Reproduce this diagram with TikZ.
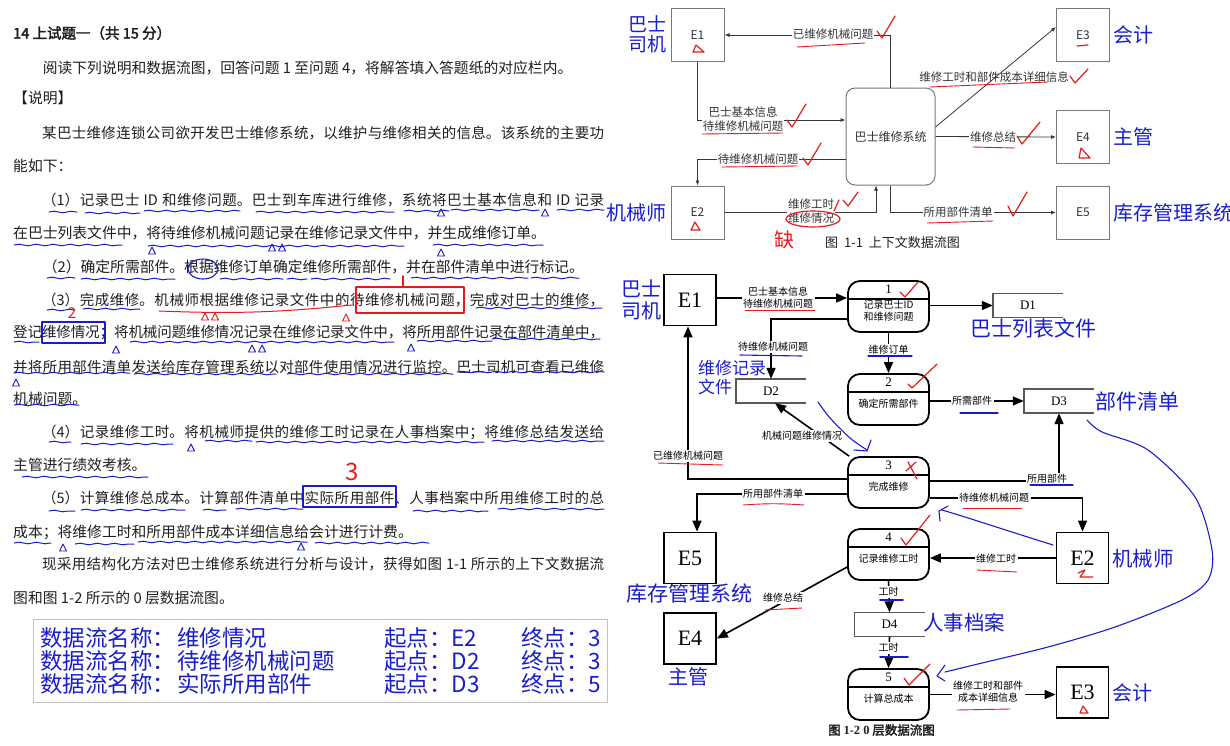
\documentclass[tikz,border=0pt]{standalone}
\usepackage{fontspec}
\setmainfont{Noto Sans CJK SC}[AutoFakeBold=2.5]
\newfontfamily\tmsfont{Liberation Serif}
\usetikzlibrary{arrows.meta, positioning, decorations.pathmorphing}
\XeTeXlinebreaklocale "zh"
\XeTeXlinebreakskip=0pt plus 1pt minus 0.3pt
\definecolor{inkblue}{RGB}{25, 30, 205}
\definecolor{inkred}{RGB}{228, 28, 28}
\definecolor{ctxgray}{RGB}{120, 120, 120}
\definecolor{ctxline}{RGB}{55, 55, 55}
\definecolor{panelgray}{RGB}{195, 195, 195}

% one justified line of the question text
\newcommand{\jl}[1]{\noindent\parfillskip=0pt\relax #1\par}

% process of the level-0 diagram: name, centre, number, text
\newcommand{\dfdproc}[4]{%
  \node[proc] (#1) at (#2) {};
  \draw[line width=1.4pt] ([yshift=-19pt]#1.north west) -- ([yshift=-19pt]#1.north east);
  \node[procnum] (#1num) at ([yshift=-9.5pt]#1.north) {#3};
  \node[proctxt] (#1txt) at ([yshift=-31pt]#1.north) {#4};
}
% open data store: name, centre, label
\newcommand{\dfdstore}[3]{%
  \node[store] (#1) at (#2) {#3};
  \draw[storeline] (#1.north east) -- (#1.north west) -- (#1.south west) -- (#1.south east);
}

\begin{document}
\begin{tikzpicture}[x=1pt, y=-1pt,
    txt/.style={anchor=west, inner sep=0pt, text=black!88,
        font=\fontsize{14.8}{17}\selectfont},
    jtxt/.style={txt, text width=591pt, align=justify,
        font=\fontsize{14.5}{17}\selectfont},
    rowtxt/.style={anchor=west, inner sep=0pt, text=inkblue,
        font=\fontsize{22.5}{24}\selectfont},
    ctxbox/.style={draw=ctxgray, line width=1pt, minimum width=53pt,
        minimum height=53pt, text=black!80, font=\fontsize{12}{14}\selectfont},
    ctxarr/.style={draw=ctxline, line width=0.8pt, -{Latex[length=5pt, width=4pt]}},
    ctxlbl/.style={fill=white, inner sep=1pt, align=center, text=black!80,
        font=\fontsize{11.5}{14}\selectfont},
    ebox/.style={draw, line width=1.8pt, minimum width=52pt, minimum height=51pt,
        font=\tmsfont\fontsize{22}{24}\selectfont},
    proc/.style={draw, line width=1.8pt, rounded corners=12pt,
        minimum width=81pt, minimum height=51pt},
    procnum/.style={inner sep=0pt, font=\tmsfont\fontsize{13}{15}\selectfont},
    proctxt/.style={inner sep=0pt, align=center, font=\fontsize{10}{12}\selectfont},
    store/.style={minimum width=70pt, minimum height=24pt,
        font=\tmsfont\fontsize{13}{15}\selectfont},
    storeline/.style={draw=black!65, line width=1.5pt},
    flow/.style={line width=1.6pt, -{Triangle[length=11pt, width=9pt]}},
    flowlbl/.style={fill=white, inner sep=1.5pt, align=center,
        font=\fontsize{10}{12}\selectfont},
    note/.style={inner sep=0pt, text=inkblue, align=left,
        font=\fontsize{20}{22}\selectfont},
    redpen/.style={draw=inkred, line width=1.2pt, line cap=round, line join=round},
    bluepen/.style={draw=inkblue, line width=1.1pt, line cap=round, line join=round},
    uline/.style={bluepen, line width=1pt, decorate,
        decoration={snake, amplitude=0.8pt, segment length=17pt}}
  ]
  \useasboundingbox[fill=white] (0,0) rectangle (1230,745);

  % ---------------- question text ----------------
  \node[txt, font=\bfseries\fontsize{14.5}{17}\selectfont] (title) at (13,33)
    {14 上试题一（共 15 分）};
  \node[txt] (intro) at (13,68)
    {\hspace*{2em}阅读下列说明和数据流图，回答问题 1 至问题 4，将解答填入答题纸的对应栏内。};
  \node[txt] (head) at (13,98) {【说明】};
  \node[jtxt] (par1a) at (13,133)
    {\jl{\hspace*{2em}某巴士维修连锁公司欲开发巴士维修系统，以维护与维修相关的信息。该系统的主要功}};
  \node[txt] (par1b) at (13,166) {能如下：};
  \node[jtxt] (f1a) at (13,200)
    {\jl{\hspace*{2em}（1）记录巴士 ID 和维修问题。巴士到车库进行维修，系统将巴士基本信息和 ID 记录}};
  \node[txt] (f1b) at (13,233)
    {在巴士列表文件中，将待维修机械问题记录在维修记录文件中，并生成维修订单。};
  \node[txt] (f2a) at (13,267)
    {\hspace*{2em}（2）确定所需部件。根据维修订单确定维修所需部件，并在部件清单中进行标记。};
  \node[jtxt] (f3a) at (13,300)
    {\jl{\hspace*{2em}（3）完成维修。机械师根据维修记录文件中的待维修机械问题，完成对巴士的维修，}};
  \node[jtxt] (f3b) at (13,333)
    {\jl{登记维修情况；将机械问题维修情况记录在维修记录文件中，将所用部件记录在部件清单中，}};
  \node[jtxt] (f3c) at (13,367)
    {\jl{并将所用部件清单发送给库存管理系统以对部件使用情况进行监控。巴士司机可查看已维修}};
  \node[txt] (f3d) at (13,399) {机械问题。};
  \node[jtxt] (f4a) at (13,432)
    {\jl{\hspace*{2em}（4）记录维修工时。将机械师提供的维修工时记录在人事档案中；将维修总结发送给}};
  \node[txt] (f4b) at (13,465) {主管进行绩效考核。};
  \node[jtxt] (f5a) at (13,498)
    {\jl{\hspace*{2em}（5）计算维修总成本。计算部件清单中实际所用部件、人事档案中所用维修工时的总}};
  \node[txt] (f5b) at (13,532) {成本；将维修工时和所用部件成本详细信息给会计进行计费。};
  \node[jtxt] (endA) at (13,564)
    {\jl{\hspace*{2em}现采用结构化方法对巴士维修系统进行分析与设计，获得如图 1-1 所示的上下文数据流}};
  \node[txt] (endB) at (13,598) {图和图 1-2 所示的 0 层数据流图。};

  % answer panel
  \node[draw=panelgray, line width=1pt, inner sep=0pt,
        minimum width=574pt, minimum height=83pt] (panel) at (320,660.5) {};
  \foreach \y/\nm/\src/\dst [count=\i] in
      {638/维修情况/E2/3, 661/待维修机械问题/D2/3, 684/实际所用部件/D3/5} {
    \node[rowtxt] (rowA\i) at (40,\y) {数据流名称：};
    \node[rowtxt] (rowB\i) at (177,\y) {\nm};
    \node[rowtxt] (rowC\i) at (384,\y) {起点：\src};
    \node[rowtxt] (rowD\i) at (521,\y) {终点：\dst};
  }

  % marks on the question text
  \foreach \a/\b/\y in {49/77/212, 85/140/213, 144/240/211, 256/394/212, 404/449/211,
      451/539/210, 557/604/210, 14/122/245, 148/404/246, 433/543/245,
      47/75/278, 81/175/279, 220/283/279, 287/307/279, 311/390/279, 411/528/278, 531/579/278,
      47/75/310, 83/140/309, 476/602/308, 14/39/342, 130/394/342, 417/492/341, 492/600/339,
      14/130/373, 134/276/374, 287/453/374, 457/604/372, 14/79/405,
      49/71/442, 81/173/444, 205/252/441, 256/484/442, 492/604/441, 22/148/477,
      49/75/511, 81/185/510, 203/226/510, 236/303/509, 413/488/511, 498/604/509,
      14/51/543, 75/134/544, 138/307/542, 315/429/543}
    \draw[uline] (\a,\y) -- (\b,\y);
  \foreach \x/\y in {441/213, 545/213, 152/251, 272/248, 282/248, 441/253, 116/350,
      252/349, 262/349, 411/348, 16/383, 191/448, 63/548, 301/547}
    \draw[bluepen, line width=0.9pt] ({\x-3.5},{\y+3}) -- (\x,{\y-4}) -- ({\x+3.5},{\y+3}) -- cycle;
  \draw[redpen, line width=1pt] (159,311) to[bend right=4] (352,305);
  \foreach \x/\y in {205/317, 215/317, 346/318}
    \draw[redpen, line width=0.9pt] ({\x-3.5},{\y+3}) -- (\x,{\y-4}) -- ({\x+3.5},{\y+3}) -- cycle;
  \draw[redpen] (356,287) rectangle (464,313);
  \draw[redpen] (403,287) -- (403,276);
  \node[text=inkred, font=\fontsize{15}{17}\selectfont] (mk2) at (72,313) {2};
  \node[text=inkred, font=\fontsize{24}{26}\selectfont] (mk3) at (352,472) {3};
  \draw[bluepen] (203,269) ellipse [x radius=15pt, y radius=10pt];
  \draw[bluepen] (42,322) rectangle (105,343);
  \draw[bluepen] (303,486) rectangle (396,507);

  % ---------------- figure 1-1 ----------------
  \node[ctxbox] (ctxE1) at (697.5,35) {E1};
  \node[ctxbox] (ctxE2) at (697.5,212.5) {E2};
  \node[ctxbox] (ctxE3) at (1083,35) {E3};
  \node[ctxbox] (ctxE4) at (1083,137) {E4};
  \node[ctxbox] (ctxE5) at (1083,212.5) {E5};
  \node[ctxbox, rounded corners=9pt, minimum width=89pt, minimum height=97pt]
    (ctxSys) at (890.5,136.5) {巴士维修系统};

  \draw[ctxarr] (ctxE1.south) |- (ctxSys.west |- 0,120);
  \draw[ctxarr] (ctxSys.north) |- (ctxE1.east);
  \draw[ctxarr] (ctxSys.west |- 0,159) -| (ctxE2.north);
  \draw[ctxarr] (ctxE2.east) -| ([xshift=-14.5pt]ctxSys.south);
  \draw[ctxarr] ([yshift=9.5pt]ctxSys.east) -- ([yshift=8pt]ctxE3.west);
  \draw[ctxarr] (ctxSys.east) -- (ctxE4.west);
  \draw[ctxarr] (ctxSys.south) |- (ctxE5.west);

  \node[ctxlbl] (cl1) at (743,119) {巴士基本信息\\待维修机械问题};
  \node[ctxlbl] (cl2) at (833,34) {已维修机械问题};
  \node[ctxlbl] (cl3) at (758,159) {待维修机械问题};
  \node[ctxlbl] (cl4) at (811,211) {维修工时\\维修情况};
  \node[ctxlbl, fill=none] (cl5) at (994,77) {维修工时和部件成本详细信息};
  \node[ctxlbl] (cl6) at (993,137) {维修总结};
  \node[ctxlbl] (cl7) at (958,212) {所用部件清单};

  \node[txt, font=\fontsize{13}{15}\selectfont] (cap1) at (825,243)
    {图\ \ 1-1\ \ 上下文数据流图};

  \node[note, align=center, font=\fontsize{19}{20}\selectfont] (ctxN1) at (647,34)
    {巴士\\司机};
  \node[note, left=4pt of ctxE2] (ctxN2) {机械师};
  \node[note, right=3.5pt of ctxE3] (ctxN3) {会计};
  \node[note, right=3.5pt of ctxE4] (ctxN4) {主管};
  \node[note, right=3.5pt of ctxE5] (ctxN5) {库存管理系统};

  % ticks and marks on figure 1-1
  \draw[redpen] (877,31) -- (882,38) -- (895,16);
  \draw[redpen] (787,120) -- (792,127) -- (806,104);
  \draw[redpen] (803,158) -- (808,165) -- (821,143);
  \draw[redpen] (834,211) -- (839,200);
  \draw[redpen] (843,200) -- (848,206) -- (858,192);
  \draw[redpen] (813,219) ellipse [x radius=27pt, y radius=8pt];
  \draw[redpen] (1070,76) -- (1075,83) -- (1088,69);
  \draw[redpen] (1017,136) -- (1022,144) -- (1040,122);
  \draw[redpen] (1008,206) -- (1013,216) -- (1027,192);
  \draw[redpen, line width=0.9pt] (797,47) -- (865,43);
  \draw[redpen, line width=0.9pt] (702,134) -- (783,133);
  \draw[redpen, line width=0.9pt] (722,167) -- (797,166);
  \draw[redpen, line width=0.9pt] (930,87) -- (1048,82);
  \draw[redpen, line width=0.9pt] (973,147) -- (1015,148);
  \draw[redpen, line width=0.9pt] (927,223) -- (993,221);
  \draw[redpen] (693,52) -- (696,45) -- (704,52) -- cycle;
  \draw[redpen] (691,230) -- (695,222) -- (700,230) -- cycle;
  \draw[redpen] (1079,158) -- (1081,148) -- (1090,158) -- cycle;
  \draw[redpen] (1077,46) -- (1088,45);
  \node[text=inkred, font=\fontsize{20}{22}\selectfont] (mkQue) at (784,240) {缺};

  % ---------------- figure 1-2 ----------------
  \node[ebox] (lvE1) at (690,300) {E1};
  \node[ebox] (lvE5) at (690,558) {E5};
  \node[ebox] (lvE4) at (690,638.5) {E4};
  \node[ebox] (lvE2) at (1082.5,558) {E2};
  \node[ebox] (lvE3) at (1082.5,692.5) {E3};

  \dfdproc{p1}{888.5,306.5}{1}{记录巴士ID\\和维修问题}
  \dfdproc{p2}{888.5,399.5}{2}{确定所需部件}
  \dfdproc{p3}{888.5,482.5}{3}{完成维修}
  \dfdproc{p4}{888.5,554.5}{4}{记录维修工时}
  \dfdproc{p5}{888.5,694.5}{5}{计算总成本}

  \dfdstore{d1}{1028,305.5}{D1}
  \dfdstore{d2}{771,391}{D2}
  \dfdstore{d3}{1059,401}{D3}
  \dfdstore{d4}{889.5,624.5}{D4}

  \draw[flow] (lvE1.east |- 0,298) -- (p1.west |- 0,298);
  \draw[flow] (p1.east |- d1.west) -- (d1.west);
  \draw[flow] (p1.west |- 0,319) -| (d2.north);
  \draw[flow] (p1.south) -- (p2.north);
  \draw[flow] (p2.east |- d3.west) -- (d3.west);
  \draw[flow] ([xshift=2pt]p3.north west) -- ([xshift=4pt]d2.south);
  \draw[flow] (p3.west |- 0,479) -| ([xshift=-2pt]lvE1.south);
  \draw[flow] (p3.west |- 0,494) -| ([xshift=7pt]lvE5.north);
  \draw[flow] (p3.east |- 0,481) -| (d3.south);
  \draw[flow] (p3.east |- 0,498) -| (lvE2.north);
  \draw[flow] (lvE2.west) -- (p4.east |- lvE2.west);
  \draw[flow] ([yshift=-12.5pt]p4.west) -- (lvE4.east);
  \draw[flow] (p4.south) -- (d4.north);
  \draw[flow] (d4.south) -- (p5.north);
  \draw[flow] (p5.east) -- (lvE3.west |- p5.east);

  \node[flowlbl] (fl1) at (778,298) {巴士基本信息\\待维修机械问题};
  \node[flowlbl] (fl2) at (773,347) {待维修机械问题};
  \node[flowlbl] (fl3) at (888.5,350) {维修订单};
  \node[flowlbl] (fl4) at (972,401) {所需部件};
  \node[flowlbl] (fl5) at (802,436) {机械问题维修情况};
  \node[flowlbl] (fl6) at (688,456) {已维修机械问题};
  \node[flowlbl] (fl7) at (773,494) {所用部件清单};
  \node[flowlbl] (fl8) at (1047,479) {所用部件};
  \node[flowlbl] (fl9) at (994,498) {待维修机械问题};
  \node[flowlbl] (fl10) at (996,559) {维修工时};
  \node[flowlbl] (fl11) at (783,598) {维修总结};
  \node[flowlbl] (fl12) at (888.5,592) {工时};
  \node[flowlbl] (fl13) at (888.5,648) {工时};
  \node[flowlbl] (fl14) at (988,692) {维修工时和部件\\成本详细信息};

  \node[txt, font=\bfseries\fontsize{12.5}{14}\selectfont] (cap2) at (828,730)
    {图 {\tmsfont\bfseries 1-2 0} 层数据流图};

  \node[note, align=center] (lvN1) at (641,300) {巴士\\司机};
  \node[note, font=\fontsize{21}{23}\selectfont, anchor=west] (lvN2) at (970,328) {巴士列表文件};
  \node[note, font=\fontsize{17}{19}\selectfont, anchor=west] (lvN3) at (698,377.5) {维修记录\\文件};
  \node[note, font=\fontsize{21}{23}\selectfont, anchor=west] (lvN4) at (1095,401) {部件清单};
  \node[note, font=\fontsize{21}{23}\selectfont, anchor=west] (lvN5) at (626,594) {库存管理系统};
  \node[note, anchor=west] (lvN6) at (668,677) {主管};
  \node[note, font=\fontsize{20.5}{22}\selectfont, anchor=west] (lvN7) at (923,623) {人事档案};
  \node[note, font=\fontsize{20.5}{22}\selectfont, anchor=west] (lvN8) at (1112,559) {机械师};
  \node[note, anchor=west] (lvN9) at (1112,693) {会计};

  % ticks and marks on figure 1-2
  \draw[redpen] (900,292) -- (905,297) -- (918,282);
  \draw[redpen] (908,384) -- (912,388) -- (937,364);
  \draw[redpen] (908,462) -- (917,479);
  \draw[redpen] (916,462) -- (906,471);
  \draw[redpen] (901,538) -- (906,545) -- (930,515);
  \draw[redpen] (904,678) -- (909,685) -- (930,664);
  \draw[redpen, line width=0.9pt] (745,310) -- (815,310);
  \draw[redpen, line width=0.9pt] (658,463) -- (723,465);
  \draw[redpen, line width=0.9pt] (743,505) to[bend left=4] (804,505);
  \draw[redpen, line width=0.9pt] (963,508) -- (1022,508);
  \draw[redpen, line width=0.9pt] (977,570) -- (1017,572);
  \draw[redpen, line width=0.9pt] (765,610) -- (802,608);
  \draw[redpen, line width=0.9pt] (957,710) -- (1010,709);
  \draw[redpen] (1080,713) -- (1083,706) -- (1088,713) -- cycle;
  \draw[redpen] (1078,573) -- (1085,570) -- (1080,577) -- (1093,577);
  \draw[bluepen] (740,355) -- (802,356);
  \draw[bluepen] (868,356) -- (912,356);
  \draw[bluepen] (960,413) -- (998,413);
  \draw[bluepen] (1030,485) -- (1073,485);
  \draw[bluepen, line width=1.6pt] (880,600) -- (903,600);
  \draw[bluepen, line width=1.6pt] (880,657) -- (908,657);
  \draw[bluepen] plot[smooth] coordinates {(818,402) (830,418) (850,438) (867,450)};
  \draw[bluepen] (854,450) -- (867,451) -- (871,440);
  \draw[bluepen] plot[smooth] coordinates {(1053,545) (1015,533) (965,517) (942,510)};
  \draw[bluepen] (940,521) -- (939,511) -- (948,506);
  \draw[bluepen] plot[smooth] coordinates {(1087,420) (1102,432) (1148,450) (1195,497)
      (1212,550) (1208,580) (1182,600) (1115,627) (1048,647) (982,663) (945,672)};
  \draw[bluepen] (945,665) -- (937,676) -- (945,681);
\end{tikzpicture}
\end{document}
